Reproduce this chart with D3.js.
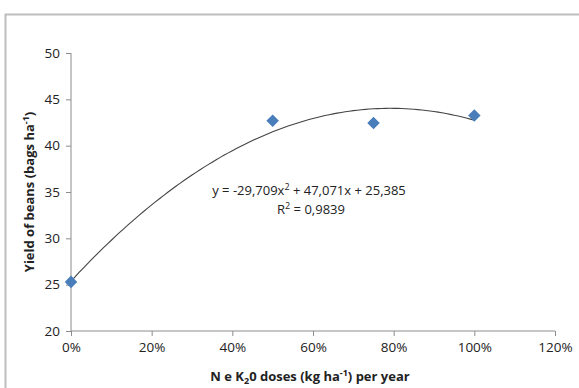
<!DOCTYPE html>
<html>
<head>
<meta charset="utf-8">
<script src="https://cdn.jsdelivr.net/npm/d3@7"></script>
<style>
  body { margin: 0; background: #fff; }
  text { font-family: "Open Sans", "Liberation Sans", sans-serif; fill: #222; }
</style>
</head>
<body>
<div id="chart"></div>
<script>
// data
var doses = [0, 0.5, 0.75, 1.0];
var yields = [25.3, 42.7, 42.45, 43.25];
var xTicks = [0, 0.2, 0.4, 0.6, 0.8, 1.0, 1.2];
var yTicks = [20, 25, 30, 35, 40, 45, 50];
var coef = [-29.709, 47.071, 25.385];  // fitted polynomial a, b, c

var W = 579, H = 388;
var margin = { left: 71, right: 24, top: 53, bottom: 57 };
var width = W - margin.left - margin.right,
    height = H - margin.top - margin.bottom;

var root = d3.select("#chart").append("svg")
    .attr("width", W)
    .attr("height", H);

// outer frame
root.append("rect")
    .attr("x", 5.5).attr("y", 14.5)
    .attr("width", W).attr("height", H)
    .attr("fill", "none")
    .attr("stroke", "#bdbdbd")
    .attr("stroke-width", 2);

var svg = root.append("g")
    .attr("transform", "translate(" + margin.left + "," + margin.top + ")");

var x = d3.scaleLinear().domain([0, 1.2]).range([0, width]);
var y = d3.scaleLinear().domain([20, 50]).range([height, 0]);

var xAxis = d3.axisBottom(x).tickValues(xTicks).tickSize(5).tickPadding(6)
    .tickFormat(d3.format(".0%"));
var yAxis = d3.axisLeft(y).tickValues(yTicks).tickSize(5).tickPadding(6);

var gx = svg.append("g")
    .attr("transform", "translate(0," + height + ")")
    .call(xAxis);
var gy = svg.append("g").call(yAxis);

[gx, gy].forEach(function(g){
    g.selectAll("path, line").attr("stroke", "#8c8c8c");
    g.selectAll("text").style("font-size", "13.5px").attr("fill", "#222");
    g.select(".domain").attr("d", g === gx ? "M0,0H" + width : "M0,0V" + height);
});

// trend line
var curvePts = d3.range(0, 1.0001, 0.01).map(function(t){
    return [t, coef[0]*t*t + coef[1]*t + coef[2]];
});
svg.append("path")
    .datum(curvePts)
    .attr("fill", "none")
    .attr("stroke", "#444")
    .attr("stroke-width", 1.1)
    .attr("d", d3.line().x(function(d){ return x(d[0]); }).y(function(d){ return y(d[1]); }));

// markers
svg.selectAll(".pt")
    .data(doses)
    .enter()
    .append("path")
        .attr("class", "pt")
        .attr("d", d3.symbol().type(d3.symbolDiamond2).size(100))
        .attr("transform", function(d, i){ return "translate(" + x(d) + "," + y(yields[i]) + ")"; })
        .attr("fill", "#4a7ebb");

// equation
var eq = svg.append("text")
    .attr("x", 238).attr("y", 142)
    .attr("text-anchor", "middle")
    .style("font-size", "13px");
eq.append("tspan").text("y = -29,709x");
eq.append("tspan").attr("dy", -5).style("font-size", "9px").text("2");
eq.append("tspan").attr("dy", 5).text(" + 47,071x + 25,385");

var r2 = svg.append("text")
    .attr("x", 240).attr("y", 161)
    .attr("text-anchor", "middle")
    .style("font-size", "13px");
r2.append("tspan").text("R");
r2.append("tspan").attr("dy", -5).style("font-size", "9px").text("2");
r2.append("tspan").attr("dy", 5).text(" = 0,9839");

// axis titles
var xt = root.append("text")
    .attr("x", margin.left + width / 2 - 3).attr("y", 381)
    .attr("text-anchor", "middle")
    .style("font-size", "13px").style("font-weight", "bold");
xt.append("tspan").text("N e K");
xt.append("tspan").attr("dy", 3).style("font-size", "9px").text("2");
xt.append("tspan").attr("dy", -3).text("0 doses (kg ha");
xt.append("tspan").attr("dy", -5).style("font-size", "9px").text("-1");
xt.append("tspan").attr("dy", 5).text(") per year");

var yt = root.append("text")
    .attr("transform", "translate(34," + (margin.top + height / 2) + ") rotate(-90)")
    .attr("text-anchor", "middle")
    .style("font-size", "13px").style("font-weight", "bold");
yt.append("tspan").text("Yield of beans (bags ha");
yt.append("tspan").attr("dy", -5).style("font-size", "9px").text("-1");
yt.append("tspan").attr("dy", 5).text(")");
</script>
</body>
</html>
